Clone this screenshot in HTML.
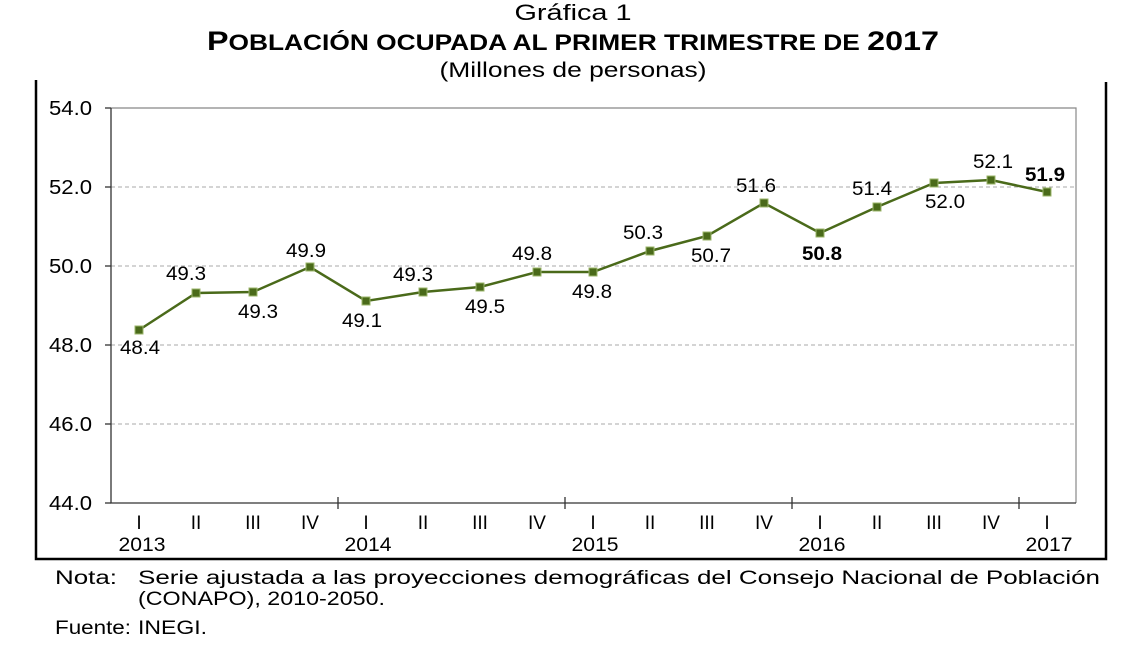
<!DOCTYPE html>
<html><head><meta charset="utf-8"><style>
body{margin:0;background:#fff;width:1140px;height:641px;overflow:hidden;font-family:"Liberation Sans",Arial,sans-serif;}
</style></head><body>
<svg width="1140" height="641" xmlns="http://www.w3.org/2000/svg" font-family="'Liberation Sans', Arial, sans-serif">
<text x="573" y="20" font-size="22" text-anchor="middle" textLength="117" lengthAdjust="spacingAndGlyphs">Gráfica 1</text>
<text x="573" y="50" font-size="22" font-weight="bold" text-anchor="middle" textLength="732" lengthAdjust="spacingAndGlyphs"><tspan font-size="27">P</tspan>OBLACIÓN OCUPADA AL PRIMER TRIMESTRE DE <tspan font-size="27">2017</tspan></text>
<text x="573" y="77" font-size="21" text-anchor="middle" textLength="267" lengthAdjust="spacingAndGlyphs">(Millones de personas)</text>
<path d="M36 80 V559 H1106 V82" fill="none" stroke="#000" stroke-width="2.5"/>
<g stroke="#aaa" stroke-dasharray="4,3" stroke-width="1">
<line x1="111" y1="187" x2="1076" y2="187"/><line x1="111" y1="266" x2="1076" y2="266"/>
<line x1="111" y1="345" x2="1076" y2="345"/><line x1="111" y1="424" x2="1076" y2="424"/>
</g>
<path d="M111 108 H1076 V503" fill="none" stroke="#888" stroke-width="1.2"/>
<path d="M111 108 V503 H1076" fill="none" stroke="#333" stroke-width="1.3"/>
<g stroke="#333" stroke-width="1.3">
<line x1="105" y1="108" x2="111" y2="108"/><line x1="105" y1="187" x2="111" y2="187"/><line x1="105" y1="266" x2="111" y2="266"/><line x1="105" y1="345" x2="111" y2="345"/><line x1="105" y1="424" x2="111" y2="424"/><line x1="105" y1="503" x2="111" y2="503"/>
<line x1="338" y1="497" x2="338" y2="509"/><line x1="565" y1="497" x2="565" y2="509"/><line x1="792" y1="497" x2="792" y2="509"/><line x1="1019" y1="497" x2="1019" y2="509"/>
</g>
<g font-size="20" text-anchor="end" lengthAdjust="spacingAndGlyphs"><text x="92" y="115" textLength="43" lengthAdjust="spacingAndGlyphs">54.0</text><text x="92" y="194" textLength="43" lengthAdjust="spacingAndGlyphs">52.0</text><text x="92" y="273" textLength="43" lengthAdjust="spacingAndGlyphs">50.0</text><text x="92" y="352" textLength="43" lengthAdjust="spacingAndGlyphs">48.0</text><text x="92" y="431" textLength="43" lengthAdjust="spacingAndGlyphs">46.0</text><text x="92" y="510" textLength="43" lengthAdjust="spacingAndGlyphs">44.0</text></g>
<g font-size="19" text-anchor="middle">
<text x="139" y="529">I</text><text x="196" y="529">II</text><text x="253" y="529">III</text><text x="310" y="529">IV</text>
<text x="366" y="529">I</text><text x="423" y="529">II</text><text x="480" y="529">III</text><text x="537" y="529">IV</text>
<text x="593" y="529">I</text><text x="650" y="529">II</text><text x="707" y="529">III</text><text x="764" y="529">IV</text>
<text x="820" y="529">I</text><text x="877" y="529">II</text><text x="934" y="529">III</text><text x="991" y="529">IV</text>
<text x="1047" y="529">I</text>
<text x="142" y="551" textLength="47" lengthAdjust="spacingAndGlyphs">2013</text><text x="368" y="551" textLength="47" lengthAdjust="spacingAndGlyphs">2014</text><text x="595" y="551" textLength="47" lengthAdjust="spacingAndGlyphs">2015</text><text x="822" y="551" textLength="47" lengthAdjust="spacingAndGlyphs">2016</text><text x="1049" y="551" textLength="47" lengthAdjust="spacingAndGlyphs">2017</text>
</g>
<polyline fill="none" stroke="#4a6a1a" stroke-width="2.5" points="139,330 196,293 253,292 310,267 366,301 423,292 480,287 537,272 593,272 650,251 707,236 764,203 820,233 877,207 934,183 991,180 1047,192"/>
<g fill="#4a6a1a" stroke="#9bb56a" stroke-width="1">
<rect x="135" y="326" width="8" height="8"/><rect x="192" y="289" width="8" height="8"/><rect x="249" y="288" width="8" height="8"/><rect x="306" y="263" width="8" height="8"/><rect x="362" y="297" width="8" height="8"/><rect x="419" y="288" width="8" height="8"/><rect x="476" y="283" width="8" height="8"/><rect x="533" y="268" width="8" height="8"/><rect x="589" y="268" width="8" height="8"/><rect x="646" y="247" width="8" height="8"/><rect x="703" y="232" width="8" height="8"/><rect x="760" y="199" width="8" height="8"/><rect x="816" y="229" width="8" height="8"/><rect x="873" y="203" width="8" height="8"/><rect x="930" y="179" width="8" height="8"/><rect x="987" y="176" width="8" height="8"/><rect x="1043" y="188" width="8" height="8"/>
</g>
<g font-size="19" text-anchor="middle">
<text x="140" y="354" textLength="40" lengthAdjust="spacingAndGlyphs">48.4</text><text x="186" y="280" textLength="40" lengthAdjust="spacingAndGlyphs">49.3</text><text x="258" y="318" textLength="40" lengthAdjust="spacingAndGlyphs">49.3</text><text x="306" y="257" textLength="40" lengthAdjust="spacingAndGlyphs">49.9</text>
<text x="362" y="327" textLength="40" lengthAdjust="spacingAndGlyphs">49.1</text><text x="413" y="281" textLength="40" lengthAdjust="spacingAndGlyphs">49.3</text><text x="485" y="313" textLength="40" lengthAdjust="spacingAndGlyphs">49.5</text><text x="532" y="260" textLength="40" lengthAdjust="spacingAndGlyphs">49.8</text>
<text x="592" y="298" textLength="40" lengthAdjust="spacingAndGlyphs">49.8</text><text x="643" y="239" textLength="40" lengthAdjust="spacingAndGlyphs">50.3</text><text x="711" y="262" textLength="40" lengthAdjust="spacingAndGlyphs">50.7</text><text x="756" y="192" textLength="40" lengthAdjust="spacingAndGlyphs">51.6</text>
<text x="822" y="260" font-weight="bold" textLength="40" lengthAdjust="spacingAndGlyphs">50.8</text><text x="872" y="195" textLength="40" lengthAdjust="spacingAndGlyphs">51.4</text><text x="945" y="208" textLength="40" lengthAdjust="spacingAndGlyphs">52.0</text><text x="993" y="168" textLength="40" lengthAdjust="spacingAndGlyphs">52.1</text>
<text x="1045" y="181" font-weight="bold" textLength="40" lengthAdjust="spacingAndGlyphs">51.9</text>
</g>
<g font-size="19">
<text x="55" y="584" textLength="62" lengthAdjust="spacingAndGlyphs">Nota:</text>
<text x="138" y="584" textLength="962" lengthAdjust="spacingAndGlyphs">Serie ajustada a las proyecciones demográficas del Consejo Nacional de Población</text>
<text x="138" y="605" textLength="247" lengthAdjust="spacingAndGlyphs">(CONAPO), 2010-2050.</text>
<text x="55" y="634" textLength="76" lengthAdjust="spacingAndGlyphs">Fuente:</text><text x="138" y="634" textLength="69" lengthAdjust="spacingAndGlyphs">INEGI.</text>
</g>
</svg>
</body></html>
